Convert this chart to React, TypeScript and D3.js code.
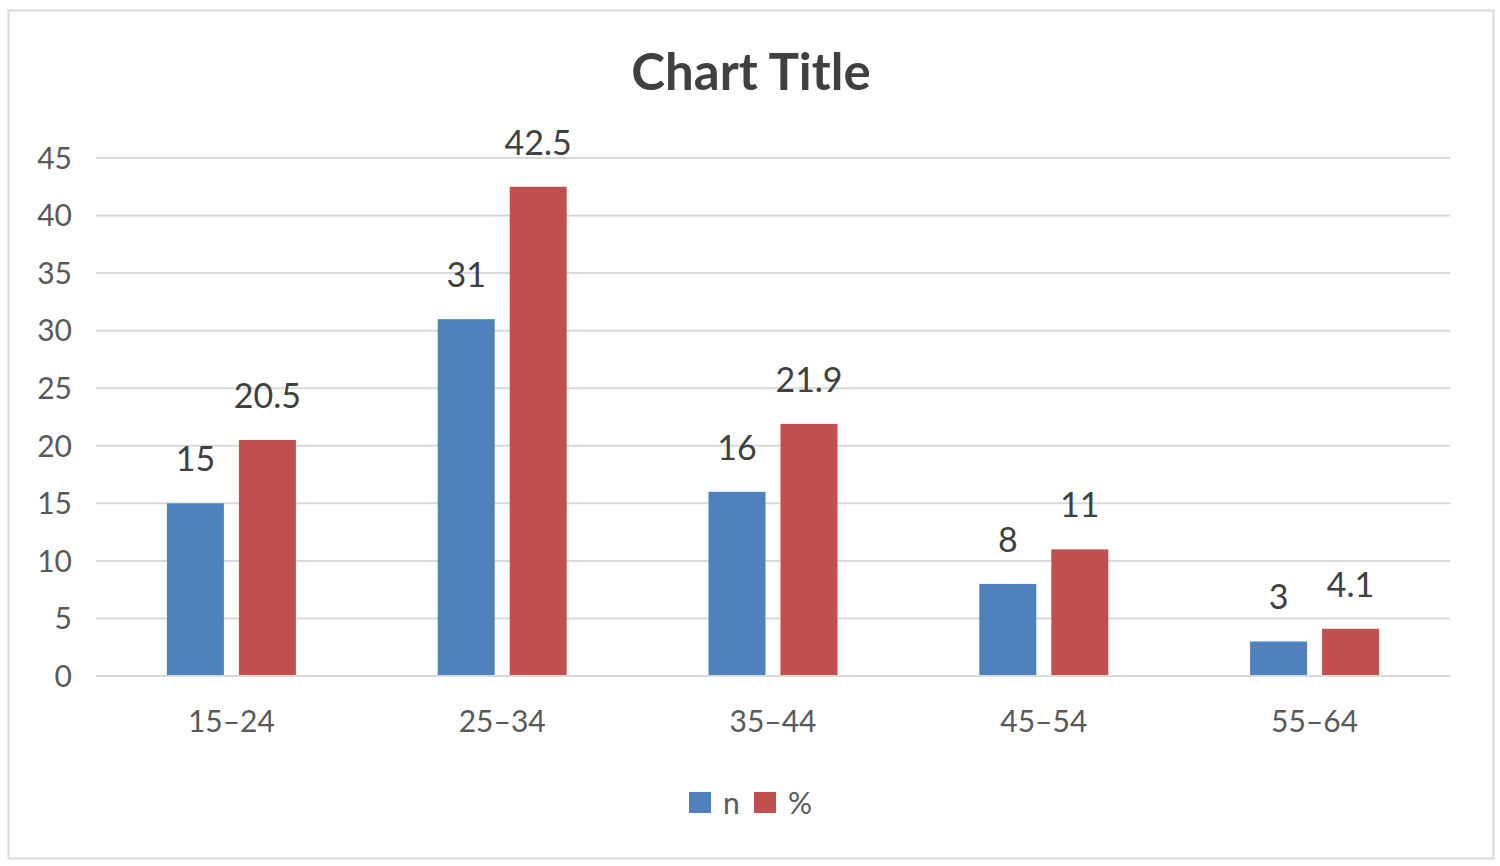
import React, { useEffect } from "react";
import * as d3 from "d3";

const categories = ["15–24", "25–34", "35–44", "45–54", "55–64"];
const nValues = [15, 31, 16, 8, 3];
const pctValues = [20.5, 42.5, 21.9, 11, 4.1];
const yTicks = [0, 5, 10, 15, 20, 25, 30, 35, 40, 45];
const seriesNames = ["n", "%"];
const seriesColors = ["#4F81BD", "#C0504D"];

const W = 1500;
const H = 866;
const font = "Lato, 'Open Sans', sans-serif";

export default function App() {
  useEffect(() => {
    document.body.style.margin = "0";
  }, []);

  const margin = { top: 158, right: 50, bottom: 190, left: 96 };
  const x = d3
    .scaleBand<string>()
    .domain(categories)
    .range([margin.left, W - margin.right])
    .paddingInner(0)
    .paddingOuter(0);
  const y = d3.scaleLinear().domain([0, 45]).range([H - margin.bottom, margin.top]);

  const barW = 57;
  const gap = 15;
  const series = [nValues, pctValues];

  return (
    <svg width={W} height={H} style={{ display: "block", background: "#fff" }}>
      <rect x={8.5} y={10.5} width={1485} height={848} fill="#fff" stroke="#D9D9D9" strokeWidth={2} />
      <text x={751} y={90} textAnchor="middle" fontFamily={font} fontWeight={700} fontSize={51} fill="#404040">
        Chart Title
      </text>
      {yTicks.map((t) => (
        <g key={t}>
          <line x1={margin.left} x2={W - margin.right} y1={y(t)} y2={y(t)} stroke="#D9D9D9" strokeWidth={2} />
          <text x={72} y={y(t)} dy="0.36em" textAnchor="end" fontFamily={font} fontSize={30} fill="#595959">
            {t}
          </text>
        </g>
      ))}
      {categories.map((c, i) => {
        const cx = x(c)! + x.bandwidth() / 2;
        return (
          <g key={c}>
            {series.map((vals, s) => {
              const bx = s === 0 ? cx - gap / 2 - barW : cx + gap / 2;
              return (
                <g key={s}>
                  <rect x={bx} y={y(vals[i])} width={barW} height={y(0) - y(vals[i])} fill={seriesColors[s]} />
                  <text
                    x={bx + barW / 2}
                    y={y(vals[i]) - 32}
                    textAnchor="middle"
                    fontFamily={font}
                    fontSize={34}
                    fill="#404040"
                  >
                    {vals[i]}
                  </text>
                </g>
              );
            })}
            <text x={cx} y={732} textAnchor="middle" fontFamily={font} fontSize={30} fill="#595959">
              {c}
            </text>
          </g>
        );
      })}
      <line x1={margin.left} x2={W - margin.right} y1={y(0)} y2={y(0)} stroke="#D9D9D9" strokeWidth={2} />
      {seriesNames.map((name, s) => (
        <g key={name} transform={`translate(${689 + s * 65},792)`}>
          <rect width={22} height={21} fill={seriesColors[s]} />
          <text x={34} y={22} fontFamily={font} fontSize={30} fill="#595959">
            {name}
          </text>
        </g>
      ))}
    </svg>
  );
}
